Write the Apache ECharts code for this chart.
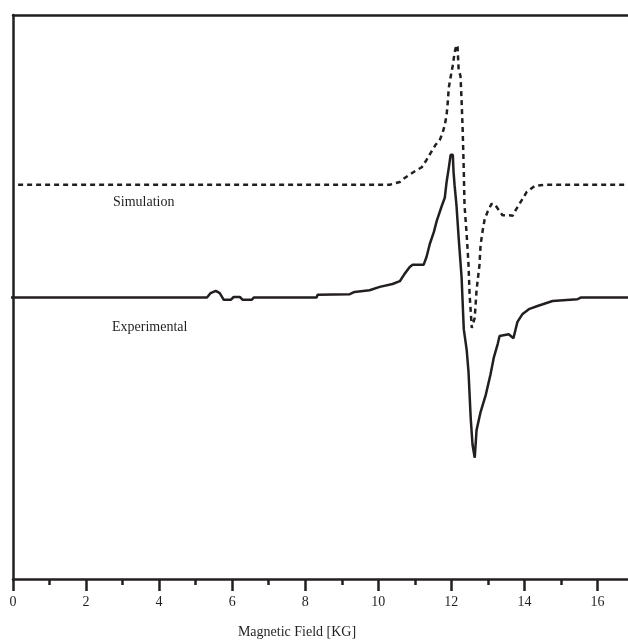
<!DOCTYPE html>
<html>
<head>
<meta charset="utf-8">
<script src="https://cdn.jsdelivr.net/npm/echarts@6/dist/echarts.min.js"></script>
<style>
  html, body { margin: 0; padding: 0; background: #fff; overflow: hidden; width: 628px; height: 640px; }
  /* plot runs past the right edge like the original figure, so the chart is a bit wider than the page */
  #chart { width: 634px; height: 640px; }
</style>
</head>
<body>
<div id="chart"></div>
<script>
// field values in kG, intensity in arbitrary units (0-100 over the plot height)
const simField = [0.14, 10.31, 10.59, 10.72, 11.0, 11.19, 11.32, 11.43, 11.57, 11.68, 11.76, 11.82, 11.87, 11.9, 11.93, 11.98, 12.04, 12.09, 12.14, 12.17, 12.2, 12.25, 12.28, 12.31, 12.34, 12.36, 12.42, 12.47, 12.5, 12.56, 12.64, 12.69, 12.77, 12.8, 12.86, 12.91, 12.99, 13.1, 13.18, 13.4, 13.59, 13.68, 13.76, 13.95, 14.06, 14.28, 14.6, 17];
const simSignal = [69.9, 69.9, 70.4, 71.1, 72.3, 73.0, 74.3, 75.5, 77.0, 77.8, 79.1, 80.5, 82.3, 84.4, 87.1, 89.0, 91.1, 93.4, 94.7, 94.3, 90.2, 89.2, 84.9, 79.6, 72.5, 66.3, 61.0, 55.7, 50.4, 44.5, 46.3, 51.2, 55.7, 59.2, 61.9, 63.7, 65.1, 66.5, 66.5, 64.5, 64.5, 64.4, 65.4, 67.4, 68.6, 69.7, 69.9, 69.9];

const expField = [-0.11, 5.31, 5.41, 5.55, 5.66, 5.77, 5.96, 6.04, 6.21, 6.29, 6.54, 6.59, 8.31, 8.34, 9.22, 9.35, 9.76, 10.04, 10.39, 10.59, 10.72, 10.86, 10.94, 11.24, 11.32, 11.41, 11.52, 11.6, 11.73, 11.82, 11.87, 11.93, 11.98, 12.04, 12.06, 12.09, 12.14, 12.2, 12.28, 12.34, 12.42, 12.47, 12.53, 12.58, 12.64, 12.69, 12.8, 12.94, 13.07, 13.16, 13.27, 13.32, 13.57, 13.7, 13.81, 13.95, 14.14, 14.36, 14.77, 15.45, 15.54, 17];
const expSignal = [49.9, 49.9, 50.7, 51.1, 50.7, 49.5, 49.5, 50.0, 50.0, 49.5, 49.5, 49.9, 49.9, 50.4, 50.5, 50.9, 51.2, 51.8, 52.3, 52.8, 54.1, 55.3, 55.7, 55.7, 57.1, 59.4, 61.5, 63.5, 66.0, 67.6, 70.4, 72.9, 75.2, 75.2, 72.2, 69.7, 66.3, 60.5, 53.5, 44.3, 40.6, 36.7, 28.5, 23.8, 21.5, 26.4, 29.6, 32.6, 36.2, 39.2, 41.7, 43.1, 43.4, 42.7, 45.6, 47.0, 47.9, 48.4, 49.3, 49.6, 49.9, 49.9];

const ink = '#231f20';
const serif = '"Liberation Serif", "DejaVu Serif", serif';

const chart = echarts.init(document.getElementById('chart'));

const zip = (xs, ys) => xs.map((x, i) => [x, ys[i]]);

chart.setOption({
  animation: false,
  grid: { left: 13, right: 0, top: 15, bottom: 61 },
  xAxis: [{
    type: 'value',
    min: 0,
    max: 17,
    interval: 2,
    position: 'bottom',
    splitLine: { show: false },
    axisLine: { onZero: false, lineStyle: { color: ink, width: 2.5 } },
    axisTick: { length: 12, lineStyle: { color: ink, width: 2.5 } },
    axisLabel: {
      showMaxLabel: false,
      margin: 16,
      color: ink,
      fontFamily: serif,
      fontSize: 14,
    },
  }, {
    // odd kG ticks, shorter
    type: 'value',
    min: 0,
    max: 17,
    interval: 1,
    position: 'bottom',
    splitLine: { show: false },
    axisLine: { show: false, onZero: false },
    axisTick: { length: 6, lineStyle: { color: ink, width: 2.5 } },
    axisLabel: { show: false },
  }, {
    // top frame
    type: 'value',
    min: 0,
    max: 17,
    position: 'top',
    splitLine: { show: false },
    axisLine: { onZero: false, lineStyle: { color: ink, width: 2.5 } },
    axisTick: { show: false },
    axisLabel: { show: false },
  }],
  yAxis: {
    type: 'value',
    min: 0,
    max: 100,
    splitLine: { show: false },
    axisLine: { show: true, onZero: false, lineStyle: { color: ink, width: 2.5 } },
    axisTick: { show: false },
    axisLabel: { show: false },
  },
  series: [{
    name: 'Simulation',
    type: 'line',
    data: zip(simField, simSignal),
    symbol: 'none',
    lineStyle: { color: ink, width: 2.5, type: [5, 4] },
    z: 3,
  }, {
    name: 'Experimental',
    type: 'line',
    data: zip(expField, expSignal),
    symbol: 'none',
    clip: false,
    lineStyle: { color: ink, width: 2.5 },
    z: 4,
  }],
  graphic: [{
    type: 'text',
    left: 113,
    top: 195,
    style: { text: 'Simulation', fill: ink, font: '14px ' + serif },
  }, {
    type: 'text',
    left: 112,
    top: 320,
    style: { text: 'Experimental', fill: ink, font: '14px ' + serif },
  }, {
    type: 'text',
    x: 297,
    y: 632,
    style: { text: 'Magnetic Field [KG]', fill: ink, font: '14px ' + serif, align: 'center', verticalAlign: 'middle' },
  }],
});
</script>
</body>
</html>
